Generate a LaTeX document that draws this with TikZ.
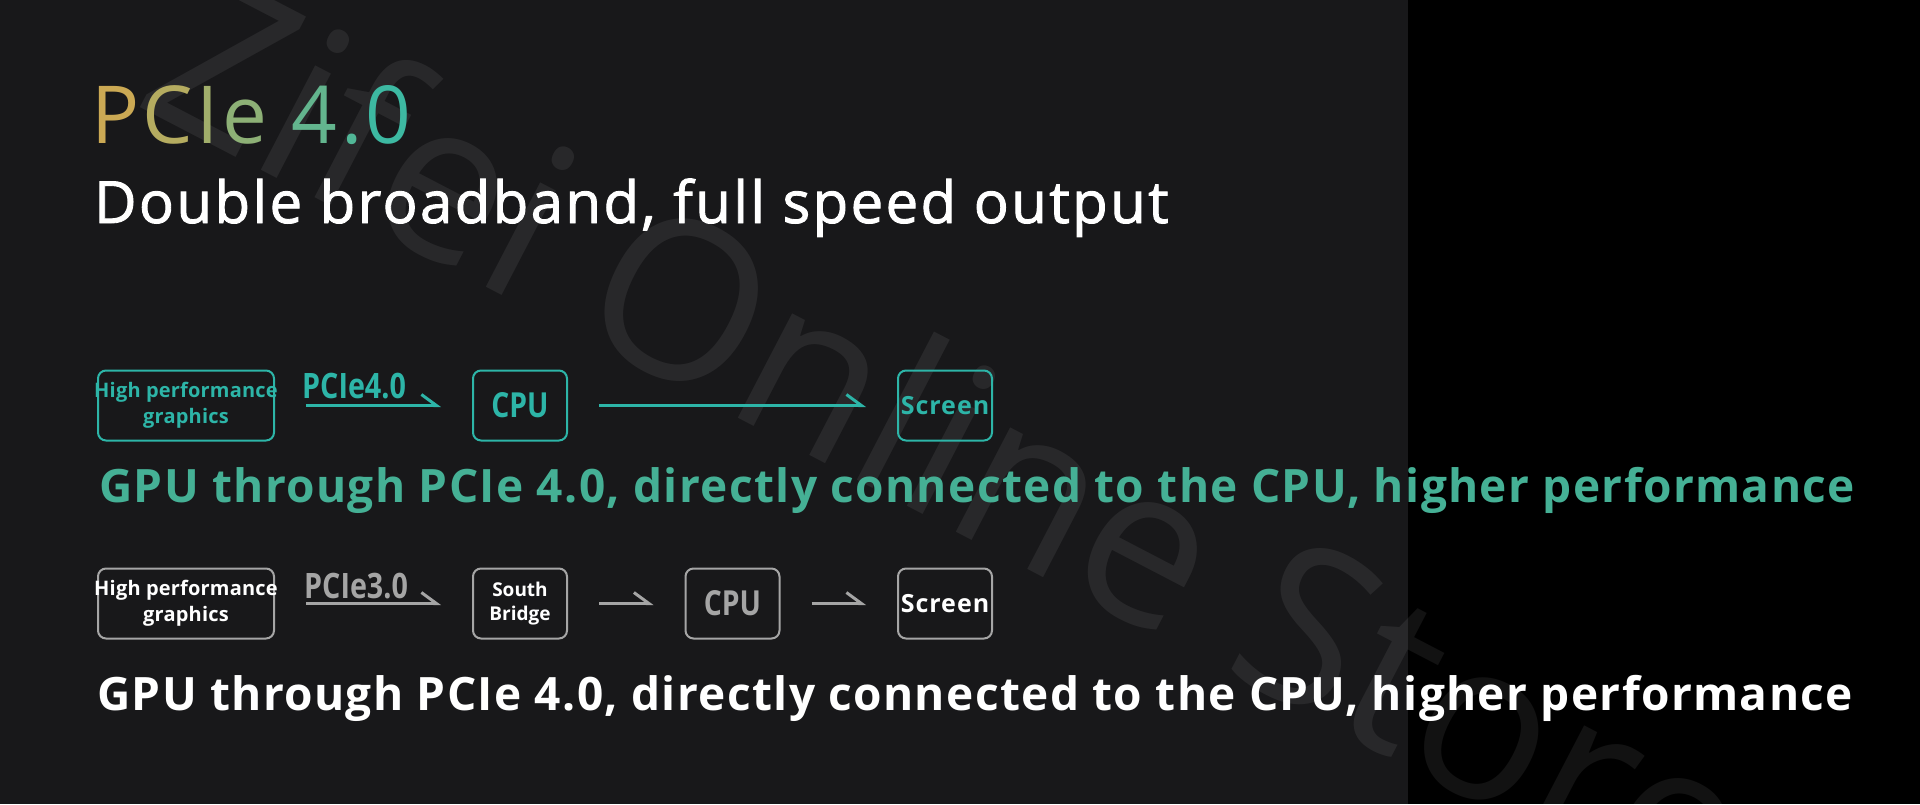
\documentclass[tikz,border=0pt]{standalone}
\usepackage{fontspec}
\setmainfont{Open Sans}
\newfontfamily\condfont{Open Sans}[FakeStretch=0.82]
\usetikzlibrary{arrows.meta}
\definecolor{bgL}{HTML}{18181A}
\definecolor{tealbox}{HTML}{2DB5A8}
\definecolor{tealtxt}{HTML}{45B095}
\definecolor{grayc}{HTML}{A5A5A5}
\definecolor{gold}{HTML}{CBA954}
\definecolor{tealend}{HTML}{36BAA6}
\newcommand{\wl}[1]{\makebox[160pt]{#1}}
\tikzset{
  box/.style={draw, rounded corners=8pt, line width=2pt, minimum height=70pt, inner sep=0pt, align=center},
  widebox/.style={box, minimum width=176pt},
  smallbox/.style={box, minimum width=94pt},
  tealbx/.style={draw=tealbox, text=tealbox},
  graybx/.style={draw=grayc},
  arr/.style={line width=3pt, shorten >=31pt, shorten <=31pt, -{Straight Barb[harpoon, length=15pt, width=22pt]}},
  boxtxt/.style={font=\fontsize{20}{26}\selectfont\bfseries\addfontfeatures{LetterSpace=1}},
  cpufont/.style={font=\condfont\fontsize{34.5}{36}\selectfont\bfseries},
  scrfont/.style={font=\fontsize{25}{26}\selectfont\bfseries\addfontfeatures{LetterSpace=4}},
  lbl/.style={inner sep=0pt, anchor=base west, font=\condfont\fontsize{35}{36}\selectfont\bfseries},
  sentence/.style={anchor=base west, inner sep=0pt, font=\fontsize{46}{48}\selectfont\bfseries\addfontfeatures{LetterSpace=3}},
}
\begin{document}
\begin{tikzpicture}[x=1pt,y=-1pt]
\useasboundingbox (0,0) rectangle (1920,804);
\fill[bgL] (0,0) rectangle (1408,804);
\fill[black] (1408,0) rectangle (1920,804);
% watermark
\node[rotate=-27.5, text=white, text opacity=0.07, font=\fontsize{220}{220}\selectfont] (wm) at (954,437) {Zifei Online Store};
% title
\node[anchor=base west, inner sep=0pt, font=\fontsize{80}{84}\selectfont] (title) at (91,143)
  {\textcolor{gold}{P}\kern3.5pt\textcolor{gold!85!tealend}{C}\kern3.5pt\textcolor{gold!72!tealend}{I}\kern3.5pt\textcolor{gold!58!tealend}{e}\kern3.5pt{} \textcolor{gold!30!tealend}{4}\kern3.5pt\textcolor{gold!18!tealend}{.}\kern3.5pt\textcolor{gold!5!tealend}{0}};
\node[anchor=base west, inner sep=0pt, text=white, font=\fontsize{58.2}{60}\selectfont\addfontfeatures{LetterSpace=4,FakeBold=1.5}] (sub) at (94,223) {Double broadband, full speed output};
% row 1
\node[widebox, tealbx, boxtxt] (g1) at (186,405.5) {\wl{High performance}\\\wl{graphics}};
\node[smallbox, tealbx, cpufont] (c1) at (520,405.5) {CPU};
\node[smallbox, tealbx, scrfont] (s1) at (945,405.5) {Screen};
\draw[arr, tealbox] (g1) -- (c1);
\draw[arr, tealbox] (c1) -- (s1);
\node[lbl, text=tealbox] (l1) at (302,398) {PCIe4.0};
\node[sentence, text=tealtxt] (t1) at (99,502) {GPU through PCIe 4.0, directly connected to the CPU, higher performance};
% row 2
\node[widebox, graybx, text=white, boxtxt] (g2) at (186,603.5) {\wl{High performance}\\\wl{graphics}};
\node[smallbox, graybx, text=white, font=\fontsize{19}{24}\selectfont\bfseries] (sb) at (520,603.5) {South\\Bridge};
\node[smallbox, graybx, text=grayc, cpufont] (c2) at (732.5,603.5) {CPU};
\node[smallbox, graybx, text=white, scrfont] (s2) at (945,603.5) {Screen};
\draw[arr, grayc] (g2) -- (sb);
\draw[arr, grayc] (sb) -- (c2);
\draw[arr, grayc] (c2) -- (s2);
\node[lbl, text=grayc] (l2) at (304,598) {PCIe3.0};
\node[sentence, text=white] (t2) at (97,710) {GPU through PCIe 4.0, directly connected to the CPU, higher performance};
\end{tikzpicture}
\end{document}
